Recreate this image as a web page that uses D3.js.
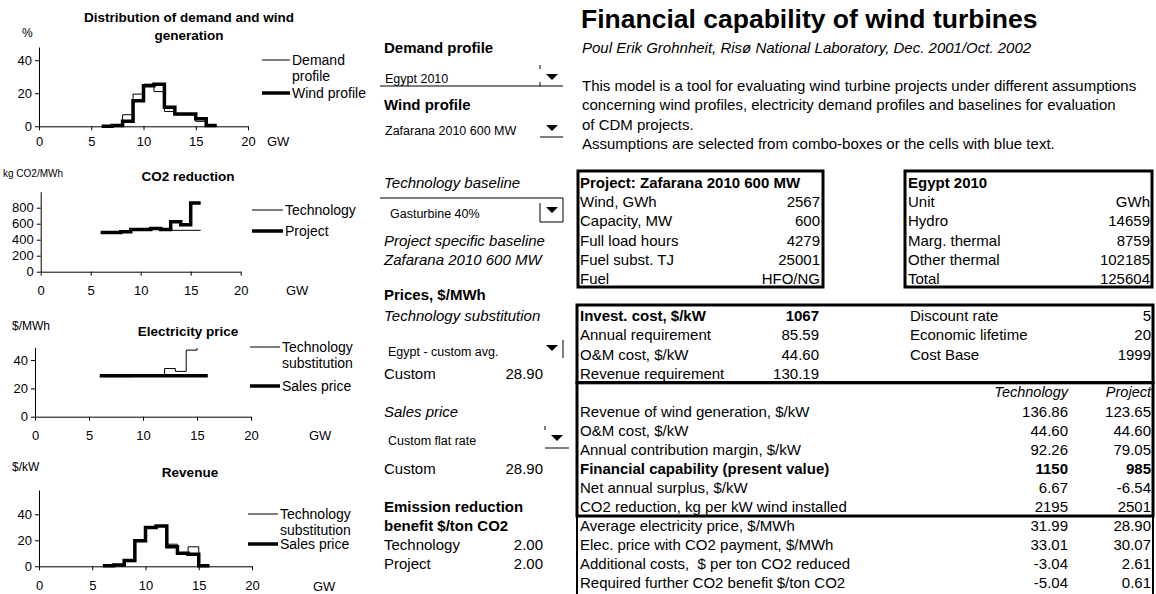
<!DOCTYPE html>
<html>
<head>
<meta charset="utf-8">
<script src="https://cdn.jsdelivr.net/npm/d3@7"></script>
<style>
  body { margin: 0; background: #fff; }
  svg { font-family: "Liberation Sans", Arial, sans-serif; }
</style>
</head>
<body>
<svg id="sheet" width="1156" height="594"></svg>
<script>
// ---- chart data ----
var xTicks = [0, 5, 10, 15, 20];

var gwDist = [6, 7, 8, 9, 10, 11, 12, 13, 14, 15, 16, 17];
var demandProfile = [0, 0.5, 7, 19.5, 25.5, 21, 9, 7, 7, 3, 0.5, 0.5];
var windProfile = [0, 0.5, 3, 15.5, 24.5, 25.5, 11.5, 7.5, 7.5, 4.5, 0.5, 0.5];

var gwCo2 = [6, 7, 8, 9, 10, 11, 12, 13, 14, 15, 16];
var co2Technology = [490, 490, 500, 527, 527, 538, 517, 517, 517, 517, 517];
var co2Project = [490, 490, 500, 528, 528, 540, 527, 625, 588, 858, 858];

var gwPriceTech = [6, 7, 8, 9, 10, 11, 12, 13, 14, 15];
var priceTechnology = [28.3, 28.3, 28.3, 29, 29, 29, 34, 32, 47, 48.5];
var gwPriceSales = [6, 7, 8, 9, 10, 11, 12, 13, 14, 15, 16];
var priceSales = [28.9, 28.9, 28.9, 28.9, 28.9, 28.9, 28.9, 28.9, 28.9, 28.9, 28.9];

var gwRevenue = [6, 7, 8, 9, 10, 11, 12, 13, 14, 15, 16];
var revenueTechnology = [0.5, 1, 3.6, 19, 29.5, 31, 17, 9.5, 15, 0.5, 0.5];
var revenueSales = [0.5, 1, 4.5, 19.7, 29.8, 31, 15, 10, 9.3, 0.5, 0.5];

// ---- sheet data ----
var introLines = [
  "This model is a tool for evaluating wind turbine projects under different assumptions",
  "concerning wind profiles, electricity demand profiles and baselines for evaluation",
  "of CDM projects.",
  "Assumptions are selected from combo-boxes or the cells with blue text."
];
var projectRows = [["Wind, GWh", "2567"], ["Capacity, MW", "600"], ["Full load hours", "4279"],
  ["Fuel subst. TJ", "25001"], ["Fuel", "HFO/NG"]];
var egyptRows = [["Unit", "GWh"], ["Hydro", "14659"], ["Marg. thermal", "8759"],
  ["Other thermal", "102185"], ["Total", "125604"]];
var investRows = [["Invest. cost, $/kW", "1067"], ["Annual requirement", "85.59"],
  ["O&M cost, $/kW", "44.60"], ["Revenue requirement", "130.19"]];
var costParams = [["Discount rate", "5"], ["Economic lifetime", "20"], ["Cost Base", "1999"]];
var resultRows = [
  ["Revenue of wind generation, $/kW", "136.86", "123.65"],
  ["O&M cost, $/kW", "44.60", "44.60"],
  ["Annual contribution margin, $/kW", "92.26", "79.05"],
  ["Financial capability (present value)", "1150", "985"],
  ["Net annual surplus, $/kW", "6.67", "-6.54"],
  ["CO2 reduction, kg per kW wind installed", "2195", "2501"]
];
var priceRows = [
  ["Average electricity price, $/MWh", "31.99", "28.90"],
  ["Elec. price with CO2 payment, $/MWh", "33.01", "30.07"],
  ["Additional costs,  $ per ton CO2 reduced", "-3.04", "2.61"],
  ["Required further CO2 benefit $/ton CO2", "-5.04", "0.61"]
];

var svg = d3.select("#sheet");

// spreadsheet row centres: upper block and lower block
function rowY(i) { return 8.5 + 19.3 * i; }
function lowY(k) { return 316 + 19.05 * k; }

// text helper: y is the visual centre of capitals
function txt(x, y, s, size, opts) {
  opts = opts || {};
  return svg.append("text")
    .attr("x", x)
    .attr("y", y + size * 0.36)
    .attr("text-anchor", opts.anchor || "start")
    .style("font-size", size + "px")
    .style("font-weight", opts.bold ? "bold" : "normal")
    .style("font-style", opts.italic ? "italic" : "normal")
    .style("white-space", "pre")
    .attr("fill", "#000")
    .text(s);
}

// ---- step charts on the left ----
function stepChart(cfg) {
  var x = d3.scaleLinear().domain([0, 20]).range([cfg.left, cfg.right]);
  var y = d3.scaleLinear().domain([0, cfg.yMax]).range([cfg.bottom, cfg.top]);
  var g = svg.append("g");

  var xAxis = g.append("g")
    .attr("transform", "translate(0," + cfg.bottom + ")")
    .call(d3.axisBottom(x).tickValues(xTicks).tickSize(4).tickSizeOuter(0).tickPadding(cfg.xPad));
  var yAxis = g.append("g")
    .attr("transform", "translate(" + cfg.left + ",0)")
    .call(d3.axisLeft(y).tickValues(cfg.yTicks).tickSize(4).tickSizeOuter(0).tickPadding(3));
  [xAxis, yAxis].forEach(function(a) {
    a.attr("font-family", null).attr("font-size", null);
    a.selectAll("text").style("font-size", "13px");
    a.select(".domain").attr("stroke", "#000");
  });

  var line = d3.line()
    .x(function(d) { return x(d[0]); })
    .y(function(d) { return y(d[1]); })
    .curve(d3.curveStepAfter);

  cfg.series.forEach(function(s) {
    g.append("path")
      .datum(d3.zip(s.gw, s.values))
      .attr("d", line)
      .attr("fill", "none")
      .attr("stroke", "#000")
      .attr("stroke-width", s.width)
      .attr("stroke-linejoin", "miter");
  });

  cfg.title.forEach(function(t, i) {
    txt(cfg.titleX, cfg.titleY + i * 18, t, 13.5, { bold: true, anchor: "middle" });
  });
  txt(cfg.unitX, cfg.unitY, cfg.unit, cfg.unitSize);
  txt(cfg.gwX, cfg.gwY, "GW", 13);

  cfg.legend.forEach(function(l) {
    g.append("line")
      .attr("x1", cfg.legX[0]).attr("x2", cfg.legX[1])
      .attr("y1", l.y).attr("y2", l.y)
      .attr("stroke", "#000").attr("stroke-width", l.width);
    l.text.forEach(function(t, i) {
      txt(cfg.legX[1] + 2, l.y + i * 15.5, t, 14);
    });
  });
}

stepChart({
  left: 39, right: 248, bottom: 126.3, top: 47, yMax: 48, yTicks: [0, 20, 40], xPad: 6,
  title: ["Distribution of demand and wind", "generation"], titleX: 189, titleY: 17,
  unit: "%", unitX: 22, unitY: 33, unitSize: 12, gwX: 267, gwY: 141,
  legX: [262, 290],
  legend: [{ y: 60, width: 1, text: ["Demand", "profile"] }, { y: 93, width: 3.5, text: ["Wind profile"] }],
  series: [{ gw: gwDist, values: demandProfile, width: 1 }, { gw: gwDist, values: windProfile, width: 3.5 }]
});

stepChart({
  left: 40.7, right: 240.7, bottom: 271.7, top: 191.7, yMax: 1000, yTicks: [0, 200, 400, 600, 800], xPad: 10,
  title: ["CO2 reduction"], titleX: 188, titleY: 176,
  unit: "kg CO2/MWh", unitX: 3, unitY: 173, unitSize: 10, gwX: 286, gwY: 290,
  legX: [252, 283],
  legend: [{ y: 210, width: 1, text: ["Technology"] }, { y: 231, width: 3.5, text: ["Project"] }],
  series: [{ gw: gwCo2, values: co2Technology, width: 1 }, { gw: gwCo2, values: co2Project, width: 3.5 }]
});

stepChart({
  left: 35, right: 251, bottom: 416.7, top: 347.3, yMax: 49, yTicks: [0, 20, 40], xPad: 10,
  title: ["Electricity price"], titleX: 188, titleY: 331,
  unit: "$/MWh", unitX: 12, unitY: 326, unitSize: 12, gwX: 309, gwY: 435,
  legX: [250, 280],
  legend: [{ y: 347, width: 1, text: ["Technology", "substitution"] }, { y: 386, width: 3.5, text: ["Sales price"] }],
  series: [{ gw: gwPriceTech, values: priceTechnology, width: 1 }, { gw: gwPriceSales, values: priceSales, width: 3.5 }]
});

stepChart({
  left: 39, right: 252, bottom: 566.3, top: 490, yMax: 58.7, yTicks: [0, 20, 40], xPad: 10,
  title: ["Revenue"], titleX: 190, titleY: 471.7,
  unit: "$/kW", unitX: 12, unitY: 466.7, unitSize: 12, gwX: 313, gwY: 586,
  legX: [248, 278],
  legend: [{ y: 514, width: 1, text: ["Technology", "substitution"] }, { y: 544, width: 3.5, text: ["Sales price"] }],
  series: [{ gw: gwRevenue, values: revenueTechnology, width: 1 }, { gw: gwRevenue, values: revenueSales, width: 3.5 }]
});

// ---- middle column: inputs and combo boxes ----
function arrow(cx, cy) {
  svg.append("path")
    .attr("d", "M" + (cx - 6) + "," + (cy - 3) + "L" + (cx + 6) + "," + (cy - 3) + "L" + cx + "," + (cy + 3) + "Z")
    .attr("fill", "#000");
}
function seg(x1, y1, x2, y2, w) {
  svg.append("line").attr("x1", x1).attr("y1", y1).attr("x2", x2).attr("y2", y2)
    .attr("stroke", "#000").attr("stroke-width", w || 1);
}

txt(384, rowY(2), "Demand profile", 15, { bold: true });
txt(385, 78, "Egypt 2010", 12.5);
arrow(552, 77);
seg(380, 86, 563, 86);
seg(540, 65, 540, 69);
seg(540, 82, 540, 86);

txt(384, rowY(5), "Wind profile", 15, { bold: true });
txt(385, 130, "Zafarana 2010 600 MW", 12.5);
arrow(552, 128);
seg(540, 137, 563, 137);

txt(384, rowY(9), "Technology baseline", 15, { italic: true });
seg(380, 198, 563, 198);
seg(563, 198, 563, 222);
seg(540, 203, 540, 222);
seg(540, 222, 563, 222);
txt(390, 213, "Gasturbine 40%", 12.5);
arrow(552, 210);
txt(384, rowY(12), "Project specific baseline", 15, { italic: true });
txt(384, rowY(13), "Zafarana 2010 600 MW", 15, { italic: true });

txt(384, lowY(-1.1), "Prices, $/MWh", 15, { bold: true });
txt(384, lowY(0), "Technology substitution", 15, { italic: true });
txt(388, 351, "Egypt - custom avg.", 12.5);
arrow(552, 348);
seg(563, 340, 563, 358);
txt(384, lowY(3), "Custom", 15);
txt(543, lowY(3), "28.90", 15, { anchor: "end" });

txt(384, lowY(5), "Sales price", 15, { italic: true });
txt(388, 440, "Custom flat rate", 12.5);
arrow(557, 438);
seg(545, 448, 569, 448);
seg(545, 426, 545, 430);
txt(384, lowY(8), "Custom", 15);
txt(543, lowY(8), "28.90", 15, { anchor: "end" });

txt(384, lowY(10), "Emission reduction", 15, { bold: true });
txt(384, lowY(11), "benefit $/ton CO2", 15, { bold: true });
txt(384, lowY(12), "Technology", 15);
txt(543, lowY(12), "2.00", 15, { anchor: "end" });
txt(384, lowY(13), "Project", 15);
txt(543, lowY(13), "2.00", 15, { anchor: "end" });

// ---- right column: title, text and tables ----
txt(581, 18, "Financial capability of wind turbines", 26.5, { bold: true });
txt(582, rowY(2), "Poul Erik Grohnheit, Risø National Laboratory, Dec. 2001/Oct. 2002", 15, { italic: true });
introLines.forEach(function(l, i) { txt(582, rowY(4 + i), l, 15); });

function box(x1, y1, x2, y2, w) {
  svg.append("rect").attr("x", x1).attr("y", y1).attr("width", x2 - x1).attr("height", y2 - y1)
    .attr("fill", "none").attr("stroke", "#000").attr("stroke-width", w);
}

// project table
box(578, 171, 823, 287, 3);
txt(580, rowY(9), "Project: Zafarana 2010 600 MW", 15, { bold: true });
projectRows.forEach(function(r, i) {
  txt(580, rowY(10 + i), r[0], 15);
  txt(820, rowY(10 + i), r[1], 15, { anchor: "end" });
});

// demand table
box(905, 171, 1152, 287, 3);
txt(908, rowY(9), "Egypt 2010", 15, { bold: true });
egyptRows.forEach(function(r, i) {
  txt(908, rowY(10 + i), r[0], 15);
  txt(1150, rowY(10 + i), r[1], 15, { anchor: "end" });
});

// cost table
box(577, 305, 1153, lowY(3.5), 3);
investRows.forEach(function(r, i) {
  txt(580, lowY(i), r[0], 15, { bold: i === 0 });
  txt(819, lowY(i), r[1], 15, { anchor: "end", bold: i === 0 });
});
costParams.forEach(function(r, i) {
  txt(910, lowY(i), r[0], 15);
  txt(1151, lowY(i), r[1], 15, { anchor: "end" });
});

// results
box(577, lowY(3.5), 1153, lowY(10.5), 3);
txt(1068, lowY(4), "Technology", 14.5, { italic: true, anchor: "end" });
txt(1151, lowY(4), "Project", 14.5, { italic: true, anchor: "end" });
resultRows.forEach(function(r, i) {
  var b = r[0].indexOf("Financial") === 0;
  txt(580, lowY(5 + i), r[0], 15, { bold: b });
  txt(1068, lowY(5 + i), r[1], 15, { anchor: "end", bold: b });
  txt(1151, lowY(5 + i), r[2], 15, { anchor: "end", bold: b });
});

seg(577, lowY(10.5), 577, 594, 2);
seg(1153, lowY(10.5), 1153, 594, 2);
priceRows.forEach(function(r, i) {
  txt(580, lowY(11 + i), r[0], 15);
  txt(1068, lowY(11 + i), r[1], 15, { anchor: "end" });
  txt(1151, lowY(11 + i), r[2], 15, { anchor: "end" });
});
</script>
</body>
</html>
